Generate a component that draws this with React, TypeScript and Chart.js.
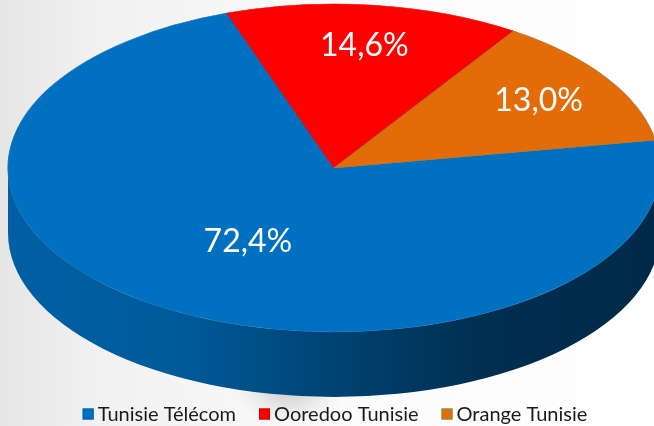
import { useEffect, useRef } from "react";
import { Chart, registerables } from "chart.js";

Chart.register(...registerables);

// ---- data ----
const categories = ["Tunisie Télécom", "Ooredoo Tunisie", "Orange Tunisie"];
const shares = [72.4, 14.6, 13.0];
const valueLabels = ["72,4%", "14,6%", "13,0%"];

// ---- style ----
const sliceColors = ["#0070C0", "#FF0000", "#E36C09"];
const legendBorders = ["#0062a8", "#d00000", "#77933C"];
const startRotation = 80.2; // degrees, first slice start (clockwise from top)
const labelRadius = [0.52, 0.75, 0.75];

// projected (tilted) pie geometry, screen px
const CX = 334;
const CY = 168;
const RX = 326;
const RY = 164;
const DEPTH = 65;

const LABEL_FONT = "32px Lato";
const LEGEND_FONT = "20px Lato";
const LEGEND_Y = 414;
const LEGEND_CENTER = 335;

function hexToRgb(h: string) {
  const n = parseInt(h.slice(1), 16);
  return [(n >> 16) & 255, (n >> 8) & 255, n & 255];
}
function shade(h: string, f: number) {
  const [r, g, b] = hexToRgb(h);
  return `rgb(${Math.round(r * f)},${Math.round(g * f)},${Math.round(b * f)})`;
}

const pie3d = {
  id: "pie3d",
  beforeDraw(chart: any) {
    const { ctx, width, height } = chart;
    ctx.save();
    const g = ctx.createLinearGradient(0, 0, width, 0);
    g.addColorStop(0, "#e6e6e6");
    g.addColorStop(0.15, "#f1f1f1");
    g.addColorStop(0.55, "#fbfbfb");
    g.addColorStop(1, "#ffffff");
    ctx.fillStyle = g;
    ctx.fillRect(0, 0, width, height);
    // soft shadow under the pie
    const rg = ctx.createRadialGradient(290, 372, 2, 290, 372, 60);
    rg.addColorStop(0, "rgba(80,80,80,0.45)");
    rg.addColorStop(1, "rgba(200,200,200,0)");
    ctx.fillStyle = rg;
    ctx.fillRect(200, 320, 180, 100);
    ctx.restore();
  },
  beforeDatasetsDraw(chart: any) {
    const { ctx } = chart;
    const meta = chart.getDatasetMeta(0);
    const arcs = meta.data;
    if (!arcs.length) return;
    // side wall
    ctx.save();
    arcs.forEach((arc: any, i: number) => {
      const a1 = arc.startAngle;
      const a2 = arc.endAngle;
      for (let k = -1; k <= 1; k++) {
        const s = Math.max(a1, 2 * Math.PI * k);
        const e = Math.min(a2, 2 * Math.PI * k + Math.PI);
        if (e <= s) continue;
        const col = sliceColors[i];
        const g = ctx.createLinearGradient(CX - RX, 0, CX + RX, 0);
        g.addColorStop(0, shade(col, 0.86));
        g.addColorStop(0.27, shade(col, 0.8));
        g.addColorStop(0.5, shade(col, 0.6));
        g.addColorStop(0.72, shade(col, 0.42));
        g.addColorStop(1, shade(col, 0.37));
        ctx.beginPath();
        ctx.ellipse(CX, CY, RX, RY, 0, s, e, false);
        ctx.ellipse(CX, CY + DEPTH, RX, RY, 0, e, s, true);
        ctx.closePath();
        ctx.fillStyle = g;
        ctx.fill();
      }
    });
    ctx.restore();
    // squash the top face into an ellipse
    const a0 = arcs[0];
    const R = a0.outerRadius;
    ctx.save();
    ctx.translate(CX, CY);
    ctx.scale(RX / R, RY / R);
    ctx.translate(-a0.x, -a0.y);
  },
  afterDatasetsDraw(chart: any) {
    const { ctx } = chart;
    const meta = chart.getDatasetMeta(0);
    const arcs = meta.data;
    if (!arcs.length) return;
    ctx.restore();
    // value labels
    ctx.save();
    ctx.font = LABEL_FONT;
    ctx.fillStyle = "#ffffff";
    ctx.textAlign = "center";
    ctx.textBaseline = "middle";
    arcs.forEach((arc: any, i: number) => {
      const mid = (arc.startAngle + arc.endAngle) / 2;
      const px = CX + RX * labelRadius[i] * Math.cos(mid);
      const py = CY + RY * labelRadius[i] * Math.sin(mid);
      ctx.fillText(valueLabels[i], px, py);
    });
    ctx.restore();
  },
  afterDraw(chart: any) {
    const { ctx } = chart;
    ctx.save();
    ctx.font = LEGEND_FONT;
    ctx.textBaseline = "middle";
    ctx.textAlign = "left";
    const box = 11;
    const gapBoxText = 4;
    const gapItems = 23;
    const widths = categories.map((c) => box + gapBoxText + ctx.measureText(c).width);
    const total = widths.reduce((a, b) => a + b, 0) + gapItems * (categories.length - 1);
    let x = LEGEND_CENTER - total / 2;
    categories.forEach((c, i) => {
      ctx.fillStyle = sliceColors[i];
      ctx.fillRect(x, LEGEND_Y - box / 2, box, box);
      ctx.strokeStyle = legendBorders[i];
      ctx.lineWidth = 1;
      ctx.strokeRect(x + 0.5, LEGEND_Y - box / 2 + 0.5, box - 1, box - 1);
      ctx.fillStyle = "#1a1a1a";
      ctx.fillText(c, x + box + gapBoxText, LEGEND_Y + 1);
      x += widths[i] + gapItems;
    });
    ctx.restore();
  },
};

export default function App() {
  const ref = useRef<HTMLCanvasElement | null>(null);
  useEffect(() => {
    document.body.style.margin = "0";
    if (!ref.current) return;
    const chart = new Chart(ref.current, {
      type: "pie",
      data: {
        labels: categories,
        datasets: [
          {
            data: shares,
            backgroundColor: sliceColors,
            borderColor: ["#1a6fb5", "#f00000", "#a07a2a"],
            borderWidth: 0.6,
            clip: false as any,
          },
        ],
      },
      options: {
        responsive: false,
        animation: false,
        events: [],
        rotation: startRotation,
        layout: { padding: 20 },
        plugins: {
          legend: { display: false },
          tooltip: { enabled: false },
        },
      },
      plugins: [pie3d],
    });
    return () => chart.destroy();
  }, []);
  return (
    <div style={{ width: 654, height: 426 }}>
      <canvas ref={ref} width={654} height={426} style={{ display: "block" }} />
    </div>
  );
}
